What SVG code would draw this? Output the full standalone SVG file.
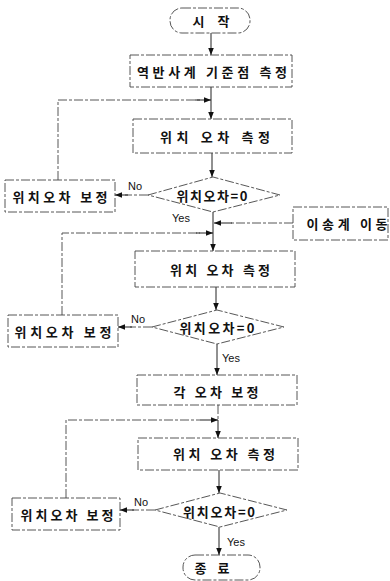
<svg xmlns="http://www.w3.org/2000/svg" width="390" height="581" viewBox="0 0 390 581">
<defs>
<marker id="ah" viewBox="0 0 10 10" refX="10" refY="5" markerWidth="7" markerHeight="7" orient="auto" markerUnits="userSpaceOnUse"><path d="M0,1 L10,5 L0,9 Z" fill="#111"/></marker>
<style>
.sh{fill:#fff;stroke:#444;stroke-width:0.9;stroke-dasharray:9 2 3 2}
.cn{fill:none;stroke:#444;stroke-width:0.9;stroke-dasharray:9 2 3 2}
.ar{fill:none;stroke:#222;stroke-width:1;marker-end:url(#ah)}
.t{font-family:"Noto Sans CJK KR","Noto Sans",sans-serif;font-weight:bold;font-size:13px;fill:#111;text-anchor:middle;dominant-baseline:central}
.l{font-family:"Liberation Sans",Arial,sans-serif;font-size:11px;fill:#111}
</style>
</defs>
<rect width="390" height="581" fill="#fff"/>
<g id="connectors">
<path class="ar" d="M211,33 V55"/>
<path class="ar" d="M211,87 V119"/>
<path class="cn" d="M58,180 V100 H200"/>
<path class="ar" d="M195,100 H211"/>
<path class="ar" d="M212,153 V177"/>
<path class="cn" d="M148,195 H125"/>
<path class="ar" d="M128,195 H115"/>
<path class="ar" d="M213,212 V251"/>
<path class="cn" d="M293,223 H230"/>
<path class="ar" d="M232,223 H214"/>
<path class="cn" d="M62,315 V233 H200"/>
<path class="ar" d="M196,233 H213"/>
<path class="ar" d="M216,287 V310"/>
<path class="cn" d="M152,327 H130"/>
<path class="ar" d="M132,327 H118"/>
<path class="ar" d="M217,344 V375"/>
<path class="cn" d="M218,405 V420 M66,498 V420 H200"/>
<path class="ar" d="M200,420 H218"/>
<path class="ar" d="M218,420 V438"/>
<path class="ar" d="M219,470 V493"/>
<path class="cn" d="M155,510 H132"/>
<path class="ar" d="M134,510 H120"/>
<path class="ar" d="M219,527 V555"/>
<text class="l" x="128" y="190">No</text>
<text class="l" x="172" y="222">Yes</text>
<text class="l" x="131" y="323">No</text>
<text class="l" x="222" y="362">Yes</text>
<text class="l" x="134" y="506">No</text>
<text class="l" x="227" y="546">Yes</text>
</g>
<g id="start"><rect class="sh" x="170" y="8" width="80" height="25" rx="12"/><text class="t" x="211" y="20.5" textLength="37" lengthAdjust="spacing">시 작</text></g>
<g id="box1"><rect class="sh" x="130" y="55" width="162" height="32"/><text class="t" x="212" y="71" textLength="150" lengthAdjust="spacing">역반사계 기준점 측정</text></g>
<g id="box2"><rect class="sh" x="133" y="119" width="159" height="34"/><text class="t" x="215" y="136" textLength="110" lengthAdjust="spacing">위치 오차 측정</text></g>
<g id="dec1"><polygon class="sh" points="148,195 213,177 280,195 213,212"/><text class="t" x="212" y="195" textLength="71" lengthAdjust="spacing">위치오차=0</text></g>
<g id="fix1"><rect class="sh" x="5" y="180" width="110" height="32"/><text class="t" x="60" y="196" textLength="95" lengthAdjust="spacing">위치오차 보정</text></g>
<g id="move"><rect class="sh" x="293" y="207" width="95" height="33"/><text class="t" x="347" y="223.5" textLength="81" lengthAdjust="spacing">이송계 이동</text></g>
<g id="box3"><rect class="sh" x="135" y="251" width="160" height="36"/><text class="t" x="220" y="269" textLength="100" lengthAdjust="spacing">위치 오차 측정</text></g>
<g id="dec2"><polygon class="sh" points="152,327 217,310 284,327 217,344"/><text class="t" x="217" y="327" textLength="75" lengthAdjust="spacing">위치오차=0</text></g>
<g id="fix2"><rect class="sh" x="8" y="315" width="110" height="32"/><text class="t" x="63" y="331" textLength="97" lengthAdjust="spacing">위치오차 보정</text></g>
<g id="box4"><rect class="sh" x="137" y="375" width="160" height="30"/><text class="t" x="216" y="391" textLength="85" lengthAdjust="spacing">각 오차 보정</text></g>
<g id="box5"><rect class="sh" x="138" y="438" width="160" height="32"/><text class="t" x="224" y="453" textLength="102" lengthAdjust="spacing">위치 오차 측정</text></g>
<g id="dec3"><polygon class="sh" points="155,510 220,493 287,510 220,527"/><text class="t" x="219" y="511" textLength="72" lengthAdjust="spacing">위치오차=0</text></g>
<g id="fix3"><rect class="sh" x="12" y="498" width="108" height="32"/><text class="t" x="67" y="514" textLength="93" lengthAdjust="spacing">위치오차 보정</text></g>
<g id="end"><rect class="sh" x="183" y="555" width="77" height="25" rx="12"/><text class="t" x="212" y="567.5" textLength="35" lengthAdjust="spacing">종 료</text></g>
</svg>
